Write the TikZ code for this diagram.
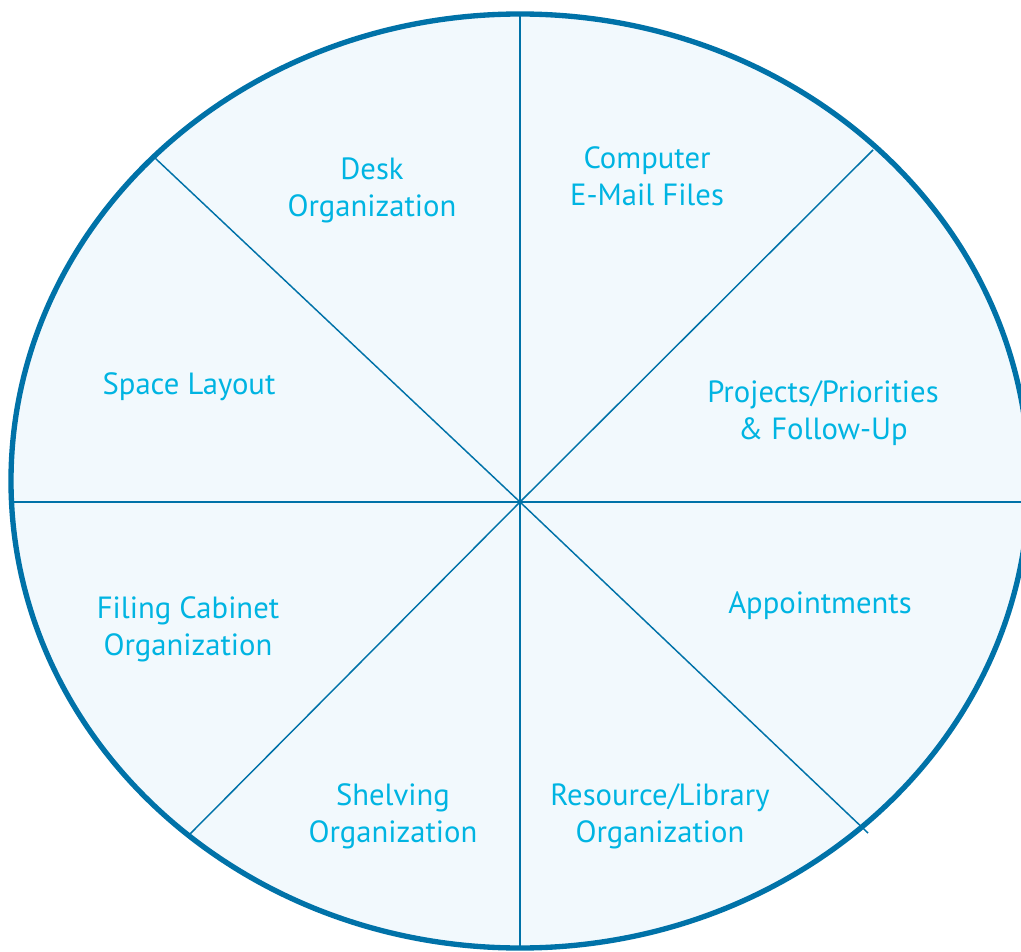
\documentclass[tikz,border=0pt]{standalone}
\usepackage{fontspec}
\setmainfont{PT Sans}
\usepackage{tikz}
\usetikzlibrary{positioning}
\definecolor{rimblue}{RGB}{0,114,168}
\definecolor{labelcyan}{RGB}{0,180,226}
\definecolor{wedgefill}{RGB}{242,249,253}

\begin{document}
\begin{tikzpicture}[x=0.75pt,y=-0.75pt]
    \tikzset{
      rim/.style={draw=rimblue,line width=4pt},
      wedge/.style={fill=wedgefill},
      spoke/.style={draw=rimblue,line width=1.1pt},
      labelnode/.style={text=labelcyan,align=center,inner sep=0pt,font=\fontsize{23}{27.75}\selectfont}
    }
    \useasboundingbox (0,0) rectangle (1021,952);
    \clip (0,0) rectangle (1021,952);
    \fill[wedge] (520,481) ellipse [x radius=509,y radius=467];

    \coordinate (hub) at (520,502);
    \coordinate (n) at (520,14);
    \coordinate (ne) at (873,150);
    \coordinate (e) at (1030,502);
    \coordinate (se) at (868,833);
    \coordinate (s) at (520,949);
    \coordinate (sw) at (188,836);
    \coordinate (w) at (11,502);
    \coordinate (nw) at (155,158);
    \foreach \c in {n,ne,e,se,s,sw,w,nw}
      \draw[spoke] (hub) -- (\c);

    \draw[rim] (520,481) ellipse [x radius=509,y radius=467];

    \node[labelnode](desk) at (372,190){Desk\\Organization};
    \node[labelnode](computer) at (647,176){Computer\\E-Mail Files};
    \node[labelnode](space) at (189,387){Space Layout};
    \node[labelnode](projects) at (823,413){Projects/Priorities\\\& Follow-Up};
    \node[labelnode](appointments) at (820,606){Appointments};
    \node[labelnode](filing) at (188,629){Filing Cabinet\\Organization};
    \node[labelnode](shelving) at (393,816){Shelving\\Organization};
    \node[labelnode](resource) at (660,816){Resource/Library\\Organization};
  \end{tikzpicture}
\end{document}
